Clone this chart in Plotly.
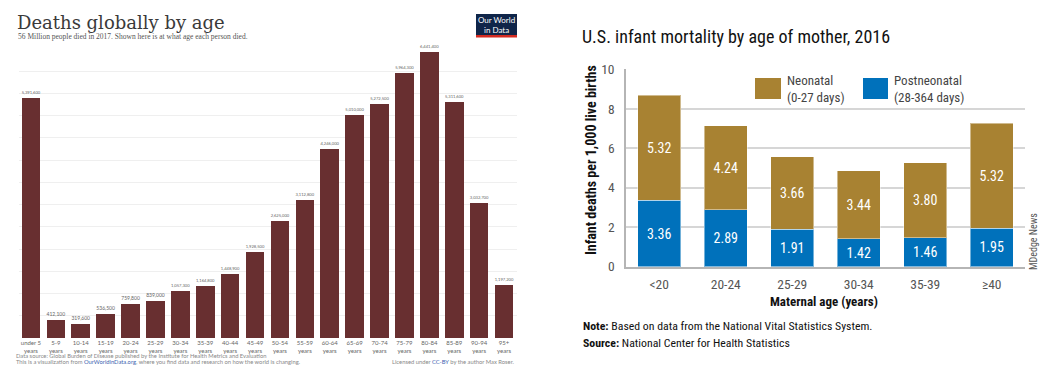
import plotly.graph_objects as go

# ---------------- Data: left chart (OWID) ----------------
age_groups = ["under 5", "5-9", "10-14", "15-19", "20-24", "25-29", "30-34", "35-39",
              "40-44", "45-49", "50-54", "55-59", "60-64", "65-69", "70-74", "75-79",
              "80-84", "85-89", "90-94", "95+"]
deaths = [5391600, 412100, 319600, 536500, 759800, 839000, 1057300, 1164800,
          1448900, 1928500, 2625000, 3112800, 4246000, 5010000, 5272500, 5964300,
          6441400, 5311600, 3032700, 1197200]

# ---------------- Data: right chart (MDedge) ----------------
maternal_age = ["<20", "20-24", "25-29", "30-34", "35-39", "≥40"]
postneonatal = [3.36, 2.89, 1.91, 1.42, 1.46, 1.95]
neonatal = [5.32, 4.24, 3.66, 3.44, 3.80, 5.32]

W, H = 1047, 374
def xp(px): return px / W
def yp(py): return 1 - py / H

NARROW = "Roboto Condensed, Liberation Sans Narrow, Arial Narrow, Roboto, sans-serif"
LATO = "Lato, sans-serif"
SERIF = "Liberation Serif, DejaVu Serif, serif"
SERIF_WIDE = "DejaVu Serif, Liberation Serif, serif"

BAR_RED = "#682f30"
GOLD = "#a88232"
BLUE = "#0071bb"

fig = go.Figure()

fig.add_trace(go.Bar(
    x=age_groups, y=deaths, marker=dict(color=BAR_RED, line=dict(width=0)),
    texttemplate="%{y:,}", textposition="outside", cliponaxis=False,
    textfont=dict(family=LATO, size=5, color="#666"),
    xaxis="x", yaxis="y", showlegend=False, hoverinfo="x+y"))

fig.add_trace(go.Bar(
    x=maternal_age, y=postneonatal, name="Postneonatal",
    marker=dict(color=BLUE, line=dict(color="rgba(255,255,255,0.45)", width=1)),
    texttemplate="%{y:.2f}", textposition="inside", insidetextanchor="middle",
    textfont=dict(family=NARROW, size=14, color="white"),
    xaxis="x2", yaxis="y2", showlegend=False))
fig.add_trace(go.Bar(
    x=maternal_age, y=neonatal, name="Neonatal",
    marker=dict(color=GOLD, line=dict(color="rgba(255,255,255,0.45)", width=1)),
    texttemplate="%{y:.2f}", textposition="inside", insidetextanchor="middle",
    textfont=dict(family=NARROW, size=14, color="white"),
    xaxis="x2", yaxis="y2", showlegend=False))

fig.update_layout(
    width=W, height=H, margin=dict(l=0, r=0, t=0, b=0, autoexpand=False),
    paper_bgcolor="white", plot_bgcolor="white",
    barmode="stack", bargap=0.25, showlegend=False,
    xaxis=dict(domain=[xp(18.5), xp(516.5)], anchor="y", type="category", automargin=False,
               tickvals=age_groups, ticktext=[a + "<br>years" for a in age_groups],
               tickfont=dict(family=LATO, size=6, color="#666"),
               showline=False, showgrid=False, zeroline=False, ticks="", ticklabelstandoff=0),
    yaxis=dict(domain=[yp(338), yp(49)], anchor="x", range=[0, 6.5e6], dtick=500000, automargin=False,
               showticklabels=False, showgrid=True, gridcolor="#efefef", gridwidth=1,
               zeroline=False, showline=False),
    xaxis2=dict(domain=[xp(626), xp(1025)], anchor="y2", type="category", automargin=False,
                tickfont=dict(family=NARROW, size=13.5, color="#555"),
                showline=True, linecolor="#b5b5b5", linewidth=2, ticks="",
                ticklabelstandoff=4, showgrid=False, zeroline=False),
    yaxis2=dict(domain=[yp(266.7), yp(69.3)], anchor="x2", range=[0, 10], dtick=2, automargin=False,
                tickfont=dict(family=NARROW, size=13.5, color="#555"),
                showgrid=True, gridcolor="#d6d6d6", gridwidth=1.5,
                showline=True, linecolor="#b5b5b5", linewidth=1.5, ticks="",
                ticklabelstandoff=7, zeroline=False),
)

fig.update_traces(selector=dict(xaxis="x2"), width=0.64)

shapes = []
annotations = []

# ---- Left chart: titles, logo, footer ----
annotations.append(dict(x=xp(15), y=yp(22), xref="paper", yref="paper", xanchor="left", yanchor="middle",
                        text="Deaths globally by age", showarrow=False,
                        font=dict(family=SERIF_WIDE, size=18, color="#3a3a3a")))
annotations.append(dict(x=xp(15.5), y=yp(37), xref="paper", yref="paper", xanchor="left", yanchor="middle",
                        text="56 Million people died in 2017. Shown here is at what age each person died.",
                        showarrow=False, font=dict(family=SERIF, size=7.5, color="#555")))
shapes.append(dict(type="rect", xref="paper", yref="paper", x0=xp(476), x1=xp(517), y0=yp(35), y1=yp(14),
                   fillcolor="#0f2549", line=dict(width=0), layer="above"))
shapes.append(dict(type="rect", xref="paper", yref="paper", x0=xp(476), x1=xp(517), y0=yp(37.5), y1=yp(35),
                   fillcolor="#d42b21", line=dict(width=0), layer="above"))
annotations.append(dict(x=xp(496.5), y=yp(25), xref="paper", yref="paper", xanchor="center", yanchor="middle",
                        text="Our World<br>in Data", showarrow=False,
                        font=dict(family=LATO, size=8, color="white")))
annotations.append(dict(x=xp(14), y=yp(355.5), xref="paper", yref="paper", xanchor="left", yanchor="middle",
                        text="Data source: Global Burden of Disease published by the Institute for Health Metrics and Evaluation",
                        showarrow=False, font=dict(family=LATO, size=5.8, color="#888")))
annotations.append(dict(x=xp(14), y=yp(361), xref="paper", yref="paper", xanchor="left", yanchor="middle",
                        text="This is a visualization from <span style='color:#3b5fb0'>OurWorldinData.org</span>, where you find data and research on how the world is changing.",
                        showarrow=False, font=dict(family=LATO, size=5.8, color="#888")))
annotations.append(dict(x=xp(517), y=yp(361.5), xref="paper", yref="paper", xanchor="right", yanchor="middle",
                        text="Licensed under <span style='color:#3b5fb0'>CC-BY</span> by the author Max Roser.",
                        showarrow=False, font=dict(family=LATO, size=5.8, color="#888")))

# ---- Right chart: title, legend, axis titles, notes ----
annotations.append(dict(x=xp(580), y=yp(37), xref="paper", yref="paper", xanchor="left", yanchor="middle",
                        text="U.S. infant mortality by age of mother, 2016", showarrow=False,
                        font=dict(family=NARROW, size=18, color="#111")))
shapes.append(dict(type="rect", xref="paper", yref="paper", x0=xp(755), x1=xp(781), y0=yp(99), y1=yp(78),
                   fillcolor=GOLD, line=dict(width=0)))
shapes.append(dict(type="rect", xref="paper", yref="paper", x0=xp(863), x1=xp(888), y0=yp(99), y1=yp(78),
                   fillcolor=BLUE, line=dict(width=0)))
annotations.append(dict(x=xp(785), y=yp(89), xref="paper", yref="paper", xanchor="left", yanchor="middle",
                        text="Neonatal<br>(0-27 days)", showarrow=False, align="left",
                        font=dict(family=NARROW, size=13, color="#444")))
annotations.append(dict(x=xp(892), y=yp(89), xref="paper", yref="paper", xanchor="left", yanchor="middle",
                        text="Postneonatal<br>(28-364 days)", showarrow=False, align="left",
                        font=dict(family=NARROW, size=13, color="#444")))
annotations.append(dict(x=xp(591), y=yp(160), xref="paper", yref="paper", xanchor="center", yanchor="middle",
                        text="<b>Infant deaths per 1,000 live births</b>", showarrow=False, textangle=-90,
                        font=dict(family=NARROW, size=14, color="#111")))
annotations.append(dict(x=xp(824), y=yp(301), xref="paper", yref="paper", xanchor="center", yanchor="middle",
                        text="<b>Maternal age (years)</b>", showarrow=False,
                        font=dict(family=NARROW, size=13, color="#111")))
annotations.append(dict(x=xp(1033), y=yp(242), xref="paper", yref="paper", xanchor="center", yanchor="middle",
                        text="MDedge News", showarrow=False, textangle=-90,
                        font=dict(family=NARROW, size=10, color="#555")))
annotations.append(dict(x=xp(581), y=yp(326), xref="paper", yref="paper", xanchor="left", yanchor="middle",
                        text="<b>Note:</b> Based on data from the National Vital Statistics System.", showarrow=False,
                        font=dict(family=NARROW, size=11.8, color="#111")))
annotations.append(dict(x=xp(581), y=yp(343), xref="paper", yref="paper", xanchor="left", yanchor="middle",
                        text="<b>Source:</b> National Center for Health Statistics", showarrow=False,
                        font=dict(family=NARROW, size=11.8, color="#111")))

fig.update_layout(shapes=shapes, annotations=annotations)
fig.write_html("out.html", config={"displayModeBar": False},
               post_script="document.body.style.margin='0';document.body.style.overflow='hidden';")
